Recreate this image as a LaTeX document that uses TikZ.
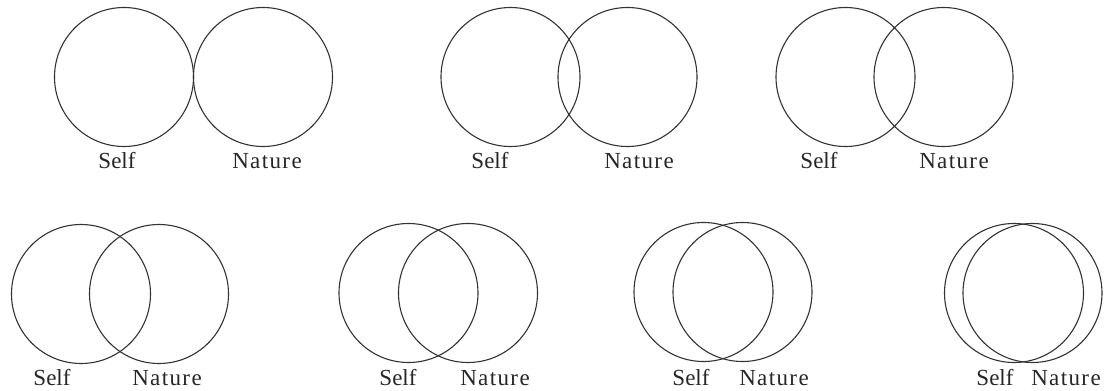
\documentclass[tikz,border=0pt]{standalone}
\usepackage{fontspec}
\setmainfont{Liberation Serif}
\newfontfamily\natfont[LetterSpace=6]{Liberation Serif}
\begin{document}
\begin{tikzpicture}[x=1pt,y=-1pt,
  circ/.style={circle,draw=black!80,line width=1.1pt,minimum size=139pt,inner sep=0pt},
  lbl/.style={anchor=base,inner sep=0pt,text=black!85,font=\fontsize{23}{26}\selectfont},
  nlbl/.style={anchor=base,inner sep=0pt,text=black!85,font=\natfont\fontsize{23}{26}\selectfont}]
\useasboundingbox (0,0) rectangle (1109,391);
% row 1
\node[circ] (s1) at (124,77) {};
\node[circ] (n1) at (263,77) {};
\node[lbl] (ls1) at (117,168) {Self};
\node[nlbl] (ln1) at (267,168) {Nature};
\node[circ] (s2) at (510.5,77) {};
\node[circ] (n2) at (627.5,77) {};
\node[lbl] (ls2) at (490,168) {Self};
\node[nlbl] (ln2) at (639,168) {Nature};
\node[circ] (s3) at (845.5,77) {};
\node[circ] (n3) at (943.5,77) {};
\node[lbl] (ls3) at (819,168) {Self};
\node[nlbl] (ln3) at (954,168) {Nature};
% row 2
\node[circ] (s4) at (81,294) {};
\node[circ] (n4) at (159,294) {};
\node[lbl] (ls4) at (52,385) {Self};
\node[nlbl] (ln4) at (167,385) {Nature};
\node[circ] (s5) at (408.5,293) {};
\node[circ] (n5) at (468,293) {};
\node[lbl] (ls5) at (398,385) {Self};
\node[nlbl] (ln5) at (495,385) {Nature};
\node[circ] (s6) at (703.5,292) {};
\node[circ] (n6) at (742.5,292) {};
\node[lbl] (ls6) at (691,385) {Self};
\node[nlbl] (ln6) at (774,385) {Nature};
\node[circ] (s7) at (1014,293) {};
\node[circ] (n7) at (1032.5,293) {};
\node[lbl] (ls7) at (995,385) {Self};
\node[nlbl] (ln7) at (1066,385) {Nature};
\end{tikzpicture}
\end{document}
